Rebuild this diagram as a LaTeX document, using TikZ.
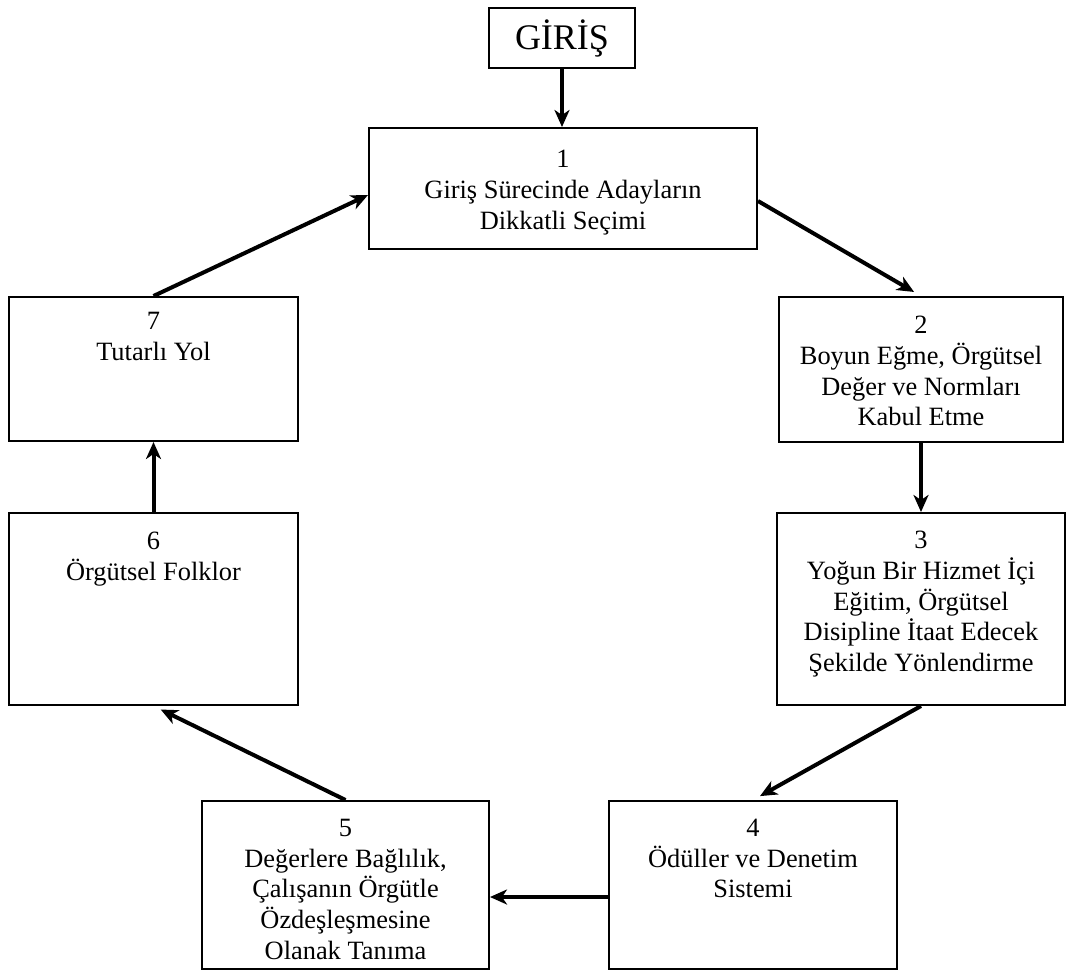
\documentclass[tikz,border=0pt]{standalone}
\usepackage{fontspec}
\setmainfont{Liberation Serif}
\usetikzlibrary{arrows.meta,positioning}
\begin{document}
\begin{tikzpicture}[x=0.5pt, y=-0.5pt,
        >={Stealth[length=8.5pt, width=7.5pt, inset=2.5pt]},
        kutu/.style={draw, line width=1pt, inner sep=0pt},
        yazi/.style={align=center, inner sep=0pt, font=\fontsize{13.2}{15.3}\selectfont},
        ok/.style={->, line width=2pt}]
        \useasboundingbox (0,0) rectangle (1066,971);
        % ── kutular ──────────────────────────
        \node[kutu, minimum width=73pt, minimum height=30pt, font=\fontsize{18}{20}\selectfont] (giris) at (562,38) {GİRİŞ};
        \node[kutu, minimum width=194pt, minimum height=60.5pt] (b1) at (563,188.5) {};
        \node[kutu, minimum width=142pt, minimum height=72.5pt] (b2) at (921,369.5) {};
        \node[kutu, minimum width=144pt, minimum height=96pt] (b3) at (921,609) {};
        \node[kutu, minimum width=144pt, minimum height=84pt] (b4) at (753,885) {};
        \node[kutu, minimum width=143.5pt, minimum height=84pt] (b5) at (345.5,885) {};
        \node[kutu, minimum width=144.5pt, minimum height=96pt] (b6) at (153.5,609) {};
        \node[kutu, minimum width=144.5pt, minimum height=72pt] (b7) at (153.5,369) {};
        % ── metinler ─────────────────────────
        \node[yazi, below=11.5pt of b1.north] (t1) {1\\Giriş Sürecinde Adayların\\Dikkatli Seçimi};
        \node[yazi, below=10pt of b2.north] (t2) {2\\Boyun Eğme, Örgütsel\\Değer ve Normları\\Kabul Etme};
        \node[yazi, below=9.5pt of b3.north] (t3) {3\\Yoğun Bir Hizmet İçi\\Eğitim, Örgütsel\\Disipline İtaat Edecek\\Şekilde Yönlendirme};
        \node[yazi, below=9.5pt of b4.north] (t4) {4\\Ödüller ve Denetim\\Sistemi};
        \node[yazi, below=9.5pt of b5.north] (t5) {5\\Değerlere Bağlılık,\\Çalışanın Örgütle\\Özdeşleşmesine\\Olanak Tanıma};
        \node[yazi, below=10pt of b6.north] (t6) {6\\Örgütsel Folklor};
        \node[yazi, below=8pt of b7.north] (t7) {7\\Tutarlı Yol};
        % ── oklar ────────────────────────────
        \draw[ok] (giris.south) -- (giris.south |- b1.north);
        \draw[ok, shorten >=4pt] ([yshift=-6.25pt]b1.east) -- (b2.north);
        \draw[ok] (b2) -- (b3);
        \draw[ok, shorten >=4pt] (b3.south) -- (b4.north);
        \draw[ok] ([yshift=-6pt]b4.west) -- ([yshift=-6pt]b5.east);
        \draw[ok, shorten >=4pt] (b5.north) -- (b6.south);
        \draw[ok] (b6) -- (b7);
        \draw[ok] (b7.north) -- ([yshift=-3.25pt]b1.west);
    \end{tikzpicture}
\end{document}
